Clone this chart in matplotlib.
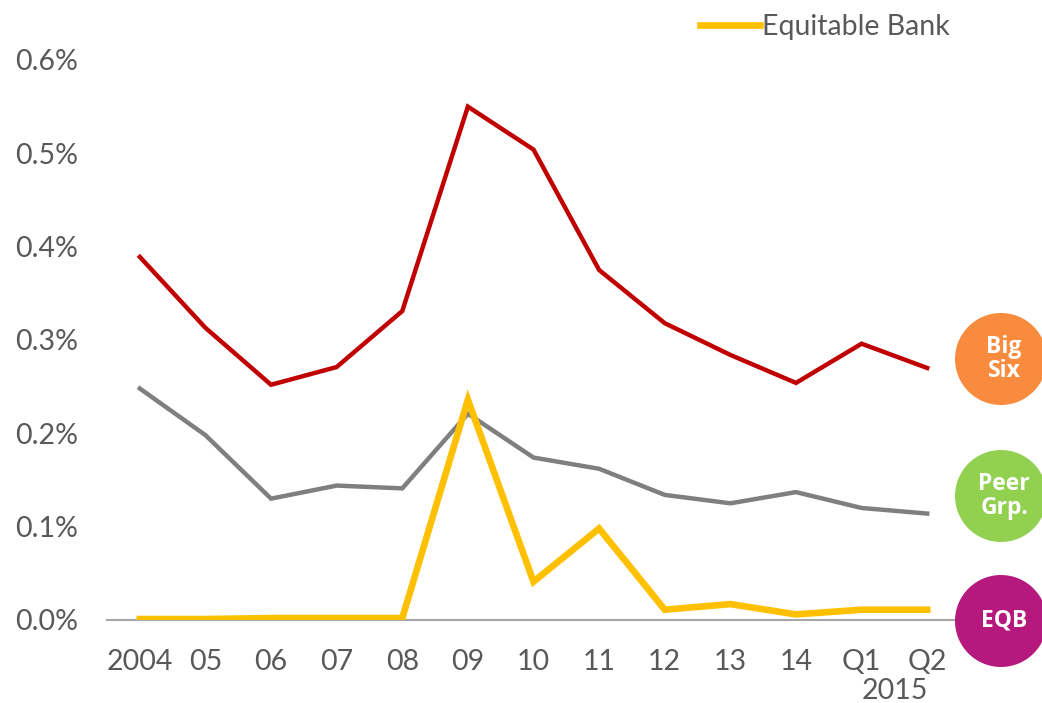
import matplotlib
matplotlib.use("Agg")
import matplotlib.pyplot as plt
import matplotlib.patches as patches

# data (% of loans)
labels = ["2004", "05", "06", "07", "08", "09", "10", "11", "12", "13", "14", "Q1", "Q2"]
big_six = [0.389, 0.313, 0.252, 0.271, 0.331, 0.550, 0.504, 0.375, 0.318, 0.284, 0.254, 0.296, 0.270]
peer_grp = [0.248, 0.198, 0.130, 0.144, 0.141, 0.221, 0.174, 0.162, 0.134, 0.125, 0.137, 0.120, 0.114]
eqb = [0.001, 0.001, 0.002, 0.002, 0.002, 0.236, 0.041, 0.098, 0.011, 0.017, 0.006, 0.011, 0.011]
yticks = [0.0, 0.1, 0.2, 0.3, 0.4, 0.5, 0.6]

txt_color = "#595959"
font = "Lato"

fig = plt.figure(figsize=(10.42, 7.03), dpi=100)
ax = fig.add_axes([0.1027, 0.1181, 0.8186, 0.7966])

x = list(range(len(labels)))
ax.plot(x, big_six, color="#C00000", lw=3.2, solid_joinstyle="miter", zorder=3)
ax.plot(x, peer_grp, color="#7F7F7F", lw=3.2, solid_joinstyle="miter", zorder=3)
eqb_line, = ax.plot(x, eqb, color="#FFC000", lw=4.8, solid_joinstyle="miter", zorder=4,
                    label="Equitable Bank")

ax.set_xlim(-0.5, len(labels) - 0.5)
ax.set_ylim(0, 0.6)
ax.set_yticks(yticks)
ax.set_yticklabels([f"{v:.1f}%" for v in yticks], fontsize=20.5, color=txt_color, family=font)
ax.set_xticks(x)
ax.set_xticklabels(labels, fontsize=20.5, color=txt_color, family=font)
ax.tick_params(axis="both", length=0)
ax.tick_params(axis="x", pad=21)
ax.tick_params(axis="y", pad=21)
for s in ["top", "right", "left"]:
    ax.spines[s].set_visible(False)
ax.spines["bottom"].set_color("#A6A6A6")
ax.spines["bottom"].set_linewidth(1.5)
ax.text(11.5, -0.0625, "2015", ha="center", va="top", fontsize=20.5, color=txt_color, family=font)

leg = ax.legend(handles=[eqb_line], loc="center left", bbox_to_anchor=(0.672, 0.962),
                bbox_transform=fig.transFigure, frameon=False, handlelength=2.1,
                handletextpad=0.08, borderaxespad=0, borderpad=0,
                prop={"family": font, "size": 20.5})
for t in leg.get_texts():
    t.set_color(txt_color)

# overlay in pixel coordinates for the badge circles on the right
ov = fig.add_axes([0, 0, 1, 1], zorder=10)
ov.set_xlim(0, 1042)
ov.set_ylim(703, 0)
ov.axis("off")
badges = [("Big\nSix", 359, "#F98B3E"), ("Peer\nGrp.", 496, "#92D050"), ("EQB", 621, "#B5197E")]
for name, cy, col in badges:
    ov.add_patch(patches.Circle((1001, cy), 46, facecolor=col, edgecolor="none"))
    ov.text(1004, cy, name, ha="center", va="center", fontsize=16.5, color="white",
            fontweight="bold", family="Open Sans", linespacing=1.0)

fig.savefig("out.png", dpi=100)
